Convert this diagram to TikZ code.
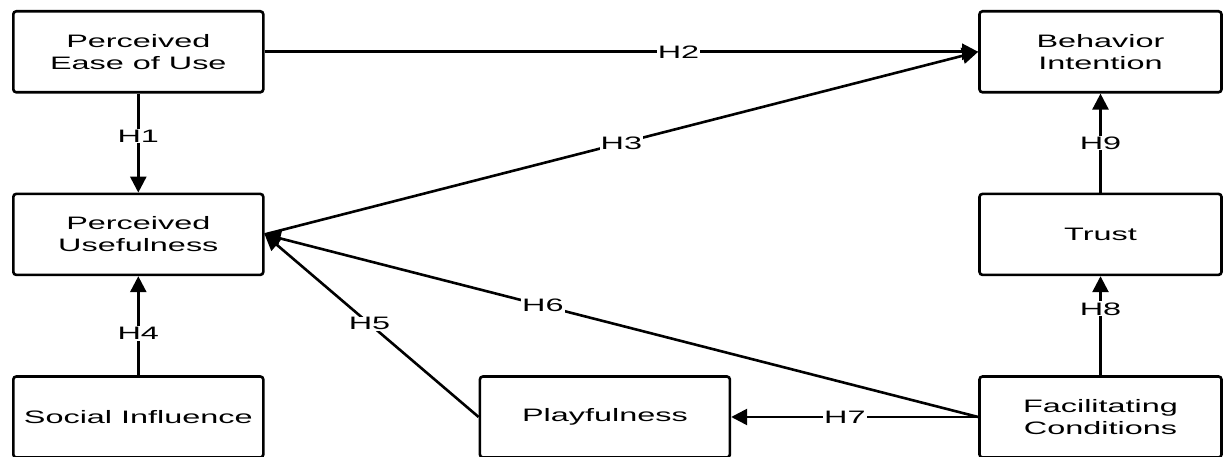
\documentclass[tikz,border=0pt]{standalone}
\usepackage{fontspec}
\usepackage{tikz}
\usetikzlibrary{arrows.meta, positioning}
\newfontfamily\diagfont[FakeStretch=1.8]{Liberation Sans}

\begin{document}
\begin{tikzpicture}[x=1pt, y=1pt, font=\diagfont\fontsize{18}{22}\selectfont]
    \tikzstyle{construct} = [rectangle, rounded corners=3pt, draw=black, line width=2.6pt, fill=white, minimum width=250pt, minimum height=81pt, align=center]
    \tikzstyle{arrow} = [line width=2.6pt, -{Triangle[length=16pt, width=16pt]}]
    \tikzstyle{hyp} = [fill=white, inner sep=1pt]

    \useasboundingbox (0,0) rectangle (1224,457);

    \node (peou) [construct, anchor=north west] at (12,447) {Perceived\\Ease of Use};
    \node (pu) [construct, below=99pt of peou] {Perceived\\Usefulness};
    \node (si) [construct, below=99pt of pu] {Social Influence};
    \node (play) [construct, right=214pt of si] {Playfulness};
    \node (fc) [construct, right=247pt of play, minimum width=242pt] {Facilitating\\Conditions};
    \node (trust) [construct, above=99pt of fc, minimum width=242pt] {Trust};
    \node (bi) [construct, above=99pt of trust, minimum width=242pt] {Behavior\\Intention};

    \draw [arrow] (peou) -- node[hyp, pos=0.43] {H1} (pu);
    \draw [arrow] (peou) -- node[hyp, pos=0.58] {H2} (bi);
    \draw [arrow] (pu.east) -- node[hyp, pos=0.5] {H3} (bi.west);
    \draw [arrow] (si) -- node[hyp, pos=0.42] {H4} (pu);
    \draw [arrow] (play.west) -- node[hyp, pos=0.51] {H5} (pu.east);
    \draw [arrow] (fc.west) -- node[hyp, pos=0.61] {H6} (pu.east);
    \draw [arrow] (fc) -- node[hyp, pos=0.54] {H7} (play);
    \draw [arrow] (fc) -- node[hyp, pos=0.67] {H8} (trust);
    \draw [arrow] (trust) -- node[hyp, pos=0.5] {H9} (bi);
\end{tikzpicture}
\end{document}
